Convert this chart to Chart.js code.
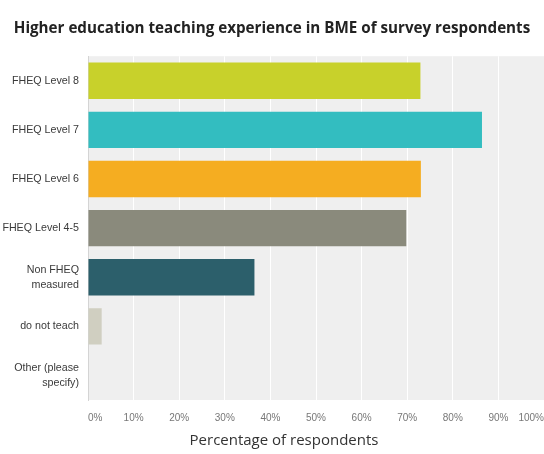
<!DOCTYPE html>
<html lang="en">
<head>
    <meta charset="UTF-8">
    <title>Higher education teaching experience</title>
    <script src="https://cdn.jsdelivr.net/npm/chart.js"></script>
    <style>
        body { margin: 0; background: #fff; }
        #wrap { width: 544px; height: 454px; }
    </style>
</head>
<body>
    <div id="wrap">
        <canvas id="grafico_barra"></canvas>
    </div>

<script>
    const categorias = [
        'FHEQ Level 8',
        'FHEQ Level 7',
        'FHEQ Level 6',
        'FHEQ Level 4-5',
        ['Non FHEQ', 'measured'],
        'do not teach',
        ['Other (please', 'specify)']
    ];

    const percentuais = [72.9, 86.4, 73.0, 69.8, 36.5, 3.0, 0];

    const cores = ['#c8d12b', '#33bdc0', '#f5ad21', '#8a8a7c', '#2c5f6b', '#d0cfc1', '#bdbdbd'];

    const xTicks = [0, 10, 20, 30, 40, 50, 60, 70, 80, 90, 100];

    // fundo cinza da area do grafico
    const fundo = {
        id: 'fundo',
        beforeDraw(chart) {
            const a = chart.chartArea;
            const ctx = chart.ctx;
            ctx.save();
            ctx.fillStyle = '#efefef';
            ctx.fillRect(a.left, a.top, a.right - a.left, a.bottom - a.top);
            ctx.restore();
        }
    };

    // o titulo de baixo fica um pouco a esquerda do centro do grafico
    const deslocaTitulo = {
        id: 'deslocaTitulo',
        afterLayout(chart) {
            if (chart.titleBlock) {
                chart.titleBlock.left = 24;
            }
        }
    };

    const configBarra = {
        type: 'bar',
        data: {
            labels: categorias,
            datasets: [{
                data: percentuais,
                backgroundColor: cores,
                borderWidth: 0,
                barPercentage: 0.74,
                categoryPercentage: 1
            }]
        },
        options: {
            indexAxis: 'y',
            responsive: true,
            maintainAspectRatio: false,
            animation: false,
            layout: { padding: 0 },
            plugins: {
                legend: { display: false },
                tooltip: { enabled: false },
                subtitle: {
                    display: true,
                    position: 'top',
                    text: 'Higher education teaching experience in BME of survey respondents',
                    color: '#222',
                    font: { family: 'Open Sans', size: 15.2, weight: 'bold' },
                    padding: { top: 20, bottom: 18 }
                },
                title: {
                    display: true,
                    position: 'bottom',
                    text: 'Percentage of respondents',
                    color: '#333',
                    font: { family: 'Open Sans', size: 15, weight: 'normal' },
                    padding: { top: 8, bottom: 4 }
                }
            },
            scales: {
                x: {
                    min: 0,
                    max: 100,
                    afterBuildTicks(scale) {
                        scale.ticks = xTicks.map(v => ({ value: v }));
                    },
                    ticks: {
                        callback: v => v + '%',
                        color: '#777',
                        font: { family: 'Liberation Sans', size: 10 },
                        padding: 0,
                        align: 'inner',
                        maxRotation: 0
                    },
                    grid: {
                        color: '#ffffff',
                        lineWidth: 1,
                        drawTicks: true,
                        tickLength: 12,
                        tickColor: 'rgba(0,0,0,0)'
                    },
                    border: { display: false }
                },
                y: {
                    afterFit(scale) { scale.width = 88; },
                    ticks: {
                        color: '#3a3a3a',
                        font: { family: 'Liberation Sans', size: 10.7, lineHeight: 1.4 },
                        padding: 9
                    },
                    grid: { display: false, drawTicks: false },
                    border: { color: '#d4d4d4' }
                }
            }
        },
        plugins: [fundo, deslocaTitulo]
    };

    const grafico_barra = new Chart(
        document.getElementById('grafico_barra'),
        configBarra
    );
</script>
</body>
</html>
